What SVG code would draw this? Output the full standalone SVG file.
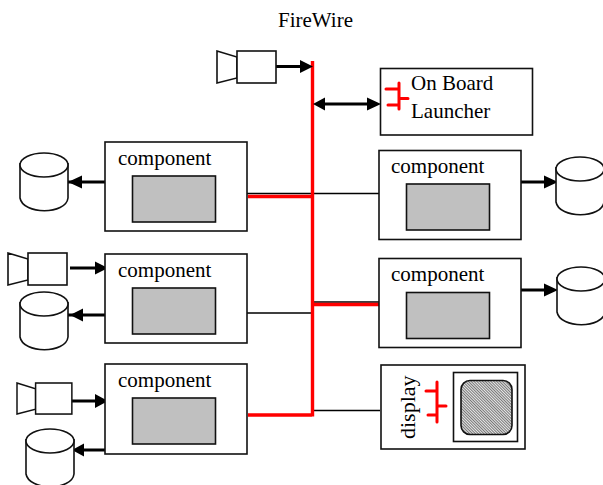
<svg xmlns="http://www.w3.org/2000/svg" xmlns:xlink="http://www.w3.org/1999/xlink" width="603" height="485" viewBox="0 0 603 485">
<style>
.b{fill:#fff;stroke:#111;stroke-width:1.6}
.g{fill:#c0c0c0;stroke:#111;stroke-width:1.6}
.t{font-family:"Liberation Serif","Times New Roman",serif;font-size:21px;fill:#000}
.k{stroke:#000;stroke-width:3;fill:none}
.n{stroke:#000;stroke-width:1.4;fill:none}
.r{stroke:#f00;stroke-width:3.4;fill:none}
.a{fill:#000}
.rs{stroke:#f00;stroke-width:3;fill:none;stroke-linecap:round}
</style>
<defs>
<pattern id="hatch" width="2" height="2" patternUnits="userSpaceOnUse" patternTransform="rotate(45)">
<rect width="2" height="2" fill="#e8e8e8"/><rect width="2" height="1" fill="#777"/>
</pattern>
<g id="cam"><path class="b" d="M0 0L20 6V27L0 32Z"/><rect class="b" x="20" y="0" width="39" height="32"/></g>
<g id="disk"><path class="b" d="M0 10V45C3 62 46 62 48 45V10"/><ellipse class="b" cx="24" cy="12" rx="24" ry="12"/></g>
</defs>
<text class="t" x="278" y="27">FireWire</text>
<g id="connectors">
<path class="n" d="M247 193.500H382M246 313H312M313 302H380M312 410.500H380"/>
<path class="r" d="M312.500 61V416.500M248 196.500H312M313 304.500H379M248 415H312"/>
<path class="k" d="M276 66.500H302M325 104H369M68 182H107M70 268H96M68 315H107M71 401H96M84 450H105M521 182H547M521 290H547"/>
<path class="a" d="M313 66.500L300 60V73ZM313 104L325 97.500V110.500ZM381 104L367 97.500V110.500ZM68 182L82 175.500V188.500ZM108 268L95 261.500V274.500ZM70 315L83 308.500V321.500ZM108 401L95 394V408ZM72 450L84 443.500V456.500ZM558 182L544 175.500V188.500ZM558 290L544 283.500V296.500Z"/>
</g>
<g id="camera-top"><use xlink:href="#cam" x="217" y="51"/></g>
<g id="camera-left-2"><use xlink:href="#cam" x="8" y="253"/></g>
<g id="camera-left-3"><use xlink:href="#cam" transform="translate(17,383) scale(.93,.97)"/></g>
<g id="disk-left-1"><use xlink:href="#disk" x="20" y="153"/></g>
<g id="disk-left-2"><use xlink:href="#disk" x="20" y="292"/></g>
<g id="disk-left-3"><use xlink:href="#disk" x="26" y="429"/></g>
<g id="disk-right-1"><use xlink:href="#disk" x="556" y="157"/></g>
<g id="disk-right-2"><use xlink:href="#disk" x="557" y="267"/></g>
<g id="launcher"><rect class="b" x="380.500" y="68.500" width="152" height="66.500"/>
<path class="rs" d="M386 89H399M399 83V109M399 98.500H408M388 105H399"/>
<text class="t" x="411" y="90">On Board</text><text class="t" x="411" y="118">Launcher</text></g>
<g id="component-l1"><rect class="b" x="105" y="142" width="142" height="89"/><rect class="g" x="132.500" y="176" width="83" height="46"/><text class="t" x="118" y="165">component</text></g>
<g id="component-l2"><rect class="b" x="105" y="254" width="142" height="89"/><rect class="g" x="132.500" y="288" width="83" height="46"/><text class="t" x="118" y="277">component</text></g>
<g id="component-l3"><rect class="b" x="105" y="364" width="142" height="90"/><rect class="g" x="132.500" y="398" width="83" height="46"/><text class="t" x="118" y="387">component</text></g>
<g id="component-r1"><rect class="b" x="379" y="150.500" width="142" height="89"/><rect class="g" x="406.500" y="184" width="83" height="46"/><text class="t" x="391" y="173">component</text></g>
<g id="component-r2"><rect class="b" x="379" y="258.500" width="142" height="89"/><rect class="g" x="406.500" y="292.500" width="83" height="46"/><text class="t" x="391" y="281">component</text></g>
<g id="display"><rect class="b" x="381" y="365" width="144" height="84"/>
<rect class="b" x="453.500" y="372.500" width="64" height="69"/>
<rect x="461" y="380.500" width="51" height="54" rx="9" fill="url(#hatch)" stroke="#111" stroke-width="1.6"/>
<path class="rs" d="M426 391H437M437 382V422M437 406H446M428 415H437"/>
<text class="t" style="font-size:22px" transform="translate(415,439) rotate(-90)">display</text></g>
</svg>
